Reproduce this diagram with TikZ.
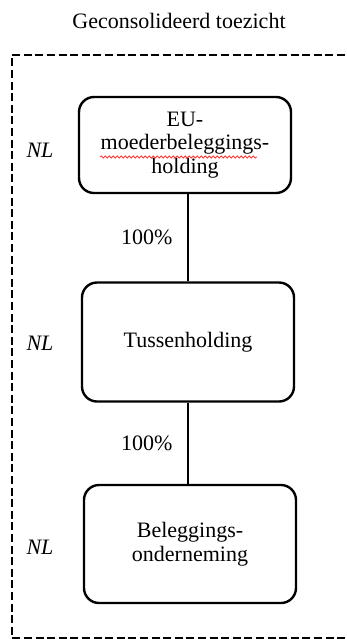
\documentclass[tikz,border=0pt]{standalone}
\usepackage{fontspec}
\setmainfont{Liberation Serif}
\usetikzlibrary{positioning,decorations.pathmorphing}

\begin{document}
\begin{tikzpicture}[x=0.5pt,y=-0.5pt,every node/.style={font=\fontsize{11}{11.8}\selectfont},
  entity/.style={draw,line width=1.2pt,rounded corners=7.5pt,minimum width=106pt,align=center},
  link/.style={line width=1pt}]
\useasboundingbox (0,0) rectangle (347,639);
% dashed frame of the consolidated group
\draw[line width=1.2pt,dash pattern=on 4pt off 1.8pt] (345,55) -- (12,55) -- (12,638) -- (345,638);
\node (title) at (179,21) {Geconsolideerd toezicht};
\node[entity,minimum height=48pt] (eu) at (185,145) {EU-\\moederbeleggings-\\holding};
\node[entity,minimum height=59.5pt] (tussen) at (188,342) {Tussenholding};
\node[entity,minimum height=59pt] (bel) at (190,544) {Beleggings-\\onderneming};
\draw[link] (tussen.north |- eu.south) -- node[left=4pt] (pct1) {100\%} (tussen.north);
\draw[link] (tussen.south) -- node[left=4pt] (pct2) {100\%} (tussen.south |- bel.north);
\foreach \n/\y in {eu/150,tussen/343,bel/547}{
  \node[font=\fontsize{11}{11.8}\selectfont\itshape] (nl-\n) at (40,\y) {NL};
}
% spell check underline
\draw[red!80,line width=0.4pt,decorate,decoration={snake,amplitude=0.5pt,segment length=2pt}] (100,157) -- (257,157);
\end{tikzpicture}
\end{document}
